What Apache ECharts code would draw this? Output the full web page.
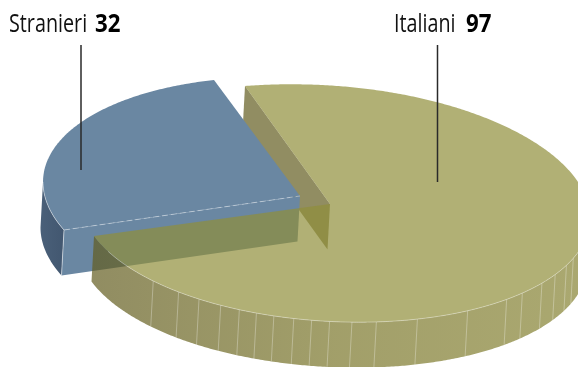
<!DOCTYPE html>
<html><head><meta charset="utf-8">
<style>html,body{margin:0;padding:0;background:#fff}#c{width:578px;height:367px}</style>
<script src="https://cdn.jsdelivr.net/npm/echarts@6/dist/echarts.min.js"></script>
</head><body><div id="c"></div>
<script>
const categories = ['Stranieri', 'Italiani'];
const values = [32, 97];

const total = values[0] + values[1];
const sweepBlue = values[0] / total * 360;
const sweepOlive = values[1] / total * 360;
const DEPTH = [-2.5, 45.5];
const rad = d => d * Math.PI / 180;

function ellipse(center, q1, q2, sigmaDeg) {
  const s = rad(sigmaDeg);
  const A = [q1[0] - center[0], q1[1] - center[1]];
  const B = [(q2[0] - center[0] - A[0] * Math.cos(s)) / Math.sin(s),
             (q2[1] - center[1] - A[1] * Math.cos(s)) / Math.sin(s)];
  return d => [center[0] + A[0] * Math.cos(rad(d)) + B[0] * Math.sin(rad(d)),
               center[1] + A[1] * Math.cos(rad(d)) + B[1] * Math.sin(rad(d))];
}
function arc(f, a, b) {
  const n = Math.max(8, Math.round(Math.abs(b - a) * 2)), p = [];
  for (let i = 0; i <= n; i++) p.push(f(a + (b - a) * i / n));
  return p;
}
const down = p => [p[0] + DEPTH[0], p[1] + DEPTH[1]];
const poly = (points, style, z2) => ({type: 'polygon', shape: {points}, style, z2, silent: true});
const line = (points, style, z2) => ({type: 'polyline', shape: {points}, style: Object.assign({fill: 'none'}, style), z2, silent: true});
const linear = (x, x2, stops) => ({type: 'linear', x, y: 0, x2, y2: 0, global: true,
  colorStops: stops.map((c, i) => ({offset: i / (stops.length - 1), color: c}))});

const OLIVE_TOP = 'rgba(144,142,59,0.7)';
const OLIVE_N = 'rgba(98,92,31,0.7)';
const BLUE = '#6a87a2';
const seamX = [153,178,199,220,239,257,274,293,311,330,352,377,417,467,506,523,542,555,566,573];

function drawBlue() {
  const apex = [300, 196], q1 = [64, 230], q2 = [214, 80];
  const end = sweepBlue * 1.05;
  const f = ellipse(apex, q1, q2, end);
  const rim = arc(f, 0, end);
  let iExt = 0;
  rim.forEach((p, i) => { if (p[0] < rim[iExt][0]) iExt = i; });
  const front = rim.slice(0, iExt + 1);
  const side = front.concat(front.map(down).reverse());
  return [
    poly(side, {fill: linear(40, 64, ['#4a6079', '#425770']), stroke: null}, 20),
    poly([q1, apex, down(apex), down(q1)], {fill: BLUE}, 21),
    poly([apex].concat(rim), {fill: BLUE}, 22),
    line([q1, down(q1)], {stroke: 'rgba(255,255,255,0.5)', lineWidth: 1}, 23),
    line(front, {stroke: 'rgba(255,255,255,0.45)', lineWidth: 1}, 23),
    line([q1, apex], {stroke: 'rgba(255,255,255,0.38)', lineWidth: 1, lineDash: [6, 3]}, 23)
  ];
}
function drawOlive() {
  const apex = [330, 204], q1 = [94, 236], q2 = [245, 86];
  const C = [327, 203.3], W = 263, SK = 14.5, H = 118;
  const T0 = 252, T1 = 516.4, k = (T1 - T0) / sweepOlive;
  const ell = t => [C[0] + W * Math.cos(rad(t)), C[1] + SK * Math.cos(rad(t)) + H * Math.sin(rad(t))];
  const e0 = ell(T0), e1 = ell(T1);
  const d0 = [q2[0] - e0[0], q2[1] - e0[1]], d1 = [q1[0] - e1[0], q1[1] - e1[1]];
  const f = s => {
    const t = T0 + s * k, p = ell(t);
    const w1 = Math.max(0, 1 - (T1 - t) / 50), w0 = Math.max(0, 1 - (t - T0) / 20);
    return [p[0] + d1[0] * w1 * w1 + d0[0] * w0 * w0, p[1] + d1[1] * w1 * w1 + d0[1] * w0 * w0];
  };
  const sRight = (360 - T0) / k;
  const top = [apex].concat(arc(f, 0, sweepOlive));
  const sideRim = arc(f, sRight, sweepOlive);
  const side = sideRim.concat(sideRim.map(down).reverse());
  const seams = seamX.map(x => {
    let best = sideRim[0];
    sideRim.forEach(p => { if (Math.abs(p[0] - x) < Math.abs(best[0] - x)) best = p; });
    return line([best, down(best)], {stroke: 'rgba(255,255,255,0.3)', lineWidth: 1}, 31);
  });
  return [
    poly([q2, apex, down(apex), down(q2)], {fill: OLIVE_N}, 10),
    poly(side, {fill: linear(90, 578, ['rgba(98,92,31,0.7)', 'rgba(122,118,42,0.7)', 'rgba(134,131,51,0.7)'])}, 30)
  ].concat(seams, [
    poly(top, {fill: OLIVE_TOP}, 32),
    line(arc(f, sRight, sweepOlive - 8), {stroke: 'rgba(255,255,255,0.35)', lineWidth: 1}, 33)
  ]);
}
function label(i, x, x2, lx, ly0, ly1) {
  return [
    line([[lx, ly0], [lx, ly1]], {stroke: '#2a2a2a', lineWidth: 1.5}, 40),
    {type: 'text', x, y: 12, scaleX: 0.79, z2: 41, silent: true, style: {
      text: categories[i], fontFamily: 'Open Sans', fontSize: 25, fill: '#111'}},
    {type: 'text', x: x2, y: 12, scaleX: 0.89, z2: 41, silent: true, style: {
      text: String(values[i]), fontFamily: 'Open Sans', fontSize: 25, fontWeight: 'bold', fill: '#000'}}
  ];
}
const chart = echarts.init(document.getElementById('c'), null, {renderer: 'canvas'});
chart.setOption({
  animation: false,
  backgroundColor: '#fff',
  series: [{
    type: 'custom',
    coordinateSystem: 'none',
    data: categories.map((name, i) => ({name, value: values[i]})),
    renderItem: (params) => ({
      type: 'group',
      children: params.dataIndex === 0
        ? drawBlue().concat(label(0, 9, 95, 81, 45, 170))
        : drawOlive().concat(label(1, 394, 466, 437.5, 45, 182))
    })
  }]
});
</script></body></html>
